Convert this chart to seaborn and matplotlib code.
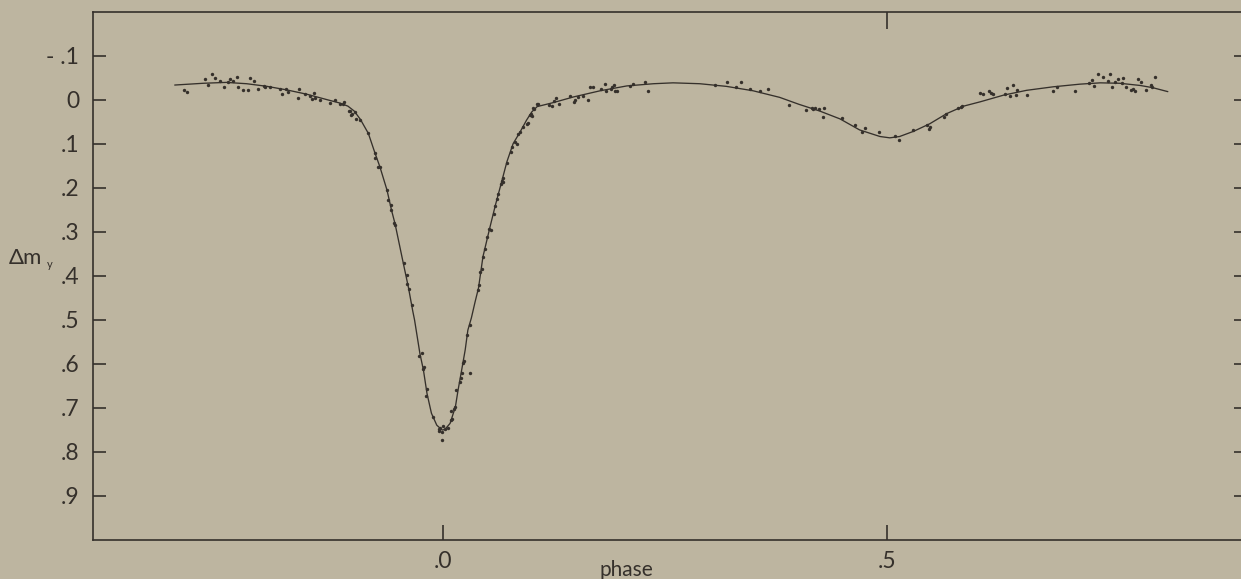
import matplotlib
matplotlib.use("Agg")
import matplotlib.pyplot as plt
import seaborn as sns
import pandas as pd

# ---- fitted light curve (phase, delta m_y) ----
curve_phase = [-0.302, -0.270, -0.244, -0.221, -0.198, -0.176, -0.153, -0.131, -0.116, -0.107,
               -0.100, -0.093, -0.084, -0.077, -0.071, -0.063, -0.058, -0.054, -0.045, -0.039,
               -0.034, -0.032, -0.026, -0.022, -0.018, -0.013, -0.007, -0.001, 0.002, 0.008,
               0.014, 0.017, 0.021, 0.025, 0.028, 0.032, 0.036, 0.040, 0.045, 0.053,
               0.059, 0.066, 0.072, 0.079, 0.087, 0.094, 0.100, 0.106, 0.124, 0.147,
               0.177, 0.207, 0.237, 0.259, 0.289, 0.319, 0.349, 0.379, 0.401, 0.424,
               0.447, 0.469, 0.492, 0.503, 0.514, 0.530, 0.548, 0.567, 0.586, 0.605,
               0.631, 0.657, 0.687, 0.717, 0.740, 0.762, 0.785, 0.799, 0.816]
curve_dm = [-0.034, -0.038, -0.040, -0.037, -0.031, -0.023, -0.013, -0.001, 0.007, 0.014,
            0.025, 0.044, 0.076, 0.118, 0.152, 0.205, 0.250, 0.281, 0.368, 0.425,
            0.480, 0.500, 0.576, 0.614, 0.667, 0.712, 0.739, 0.750, 0.749, 0.735,
            0.697, 0.659, 0.614, 0.568, 0.523, 0.495, 0.460, 0.427, 0.356, 0.288,
            0.239, 0.186, 0.140, 0.099, 0.072, 0.046, 0.027, 0.015, 0.006, -0.007,
            -0.021, -0.032, -0.037, -0.039, -0.037, -0.031, -0.021, -0.006, 0.010, 0.025,
            0.043, 0.068, 0.083, 0.086, 0.083, 0.071, 0.054, 0.031, 0.014, 0.004,
            -0.011, -0.022, -0.030, -0.036, -0.039, -0.038, -0.033, -0.028, -0.019]

obs_phase = [-0.292, -0.288, -0.268, -0.264, -0.260, -0.257, -0.251, -0.247, -0.242, -0.240,
             -0.236, -0.232, -0.231, -0.225, -0.220, -0.217, -0.213, -0.208, -0.202, -0.200,
             -0.195, -0.183, -0.181, -0.177, -0.174, -0.162, -0.163, -0.155, -0.150, -0.145,
             -0.147, -0.144, -0.139, -0.127, -0.122, -0.116, -0.113, -0.106, -0.103, -0.099,
             -0.093, -0.111, -0.105, -0.102, -0.098, -0.084, -0.077, -0.077, -0.073, -0.071,
             -0.063, -0.062, -0.059, -0.058, -0.055, -0.054, -0.044, -0.041, -0.040, -0.038,
             -0.035, -0.027, -0.024, -0.023, -0.021, -0.018, -0.019, -0.011, -0.005, -0.003,
             0.000, 0.002, 0.006, -0.001, -0.004, -0.001, 0.030, 0.027, 0.022, 0.024,
             0.021, 0.030, 0.020, 0.019, 0.015, 0.014, 0.012, 0.009, 0.010, 0.009,
             0.039, 0.041, 0.042, 0.044, 0.045, 0.047, 0.050, 0.052, 0.054, 0.057,
             0.059, 0.061, 0.062, 0.065, 0.066, 0.067, 0.068, 0.072, 0.077, 0.078,
             0.081, 0.083, 0.085, 0.087, 0.090, 0.095, 0.099, 0.100, 0.102, 0.106,
             0.107, 0.119, 0.096, 0.098, 0.101, 0.123, 0.125, 0.127, 0.131, 0.143,
             0.148, 0.149, 0.152, 0.158, 0.163, 0.165, 0.169, 0.178, 0.182, 0.184,
             0.189, 0.190, 0.192, 0.194, 0.196, 0.210, 0.214, 0.227, 0.231, 0.306,
             0.320, 0.330, 0.336, 0.346, 0.357, 0.366, 0.390, 0.409, 0.415, 0.417,
             0.419, 0.423, 0.429, 0.428, 0.449, 0.464, 0.472, 0.475, 0.491, 0.509,
             0.513, 0.529, 0.545, 0.547, 0.548, 0.564, 0.566, 0.580, 0.583, 0.584,
             0.604, 0.608, 0.615, 0.617, 0.619, 0.633, 0.635, 0.638, 0.642, 0.646,
             0.645, 0.658, 0.687, 0.691, 0.711, 0.727, 0.731, 0.733, 0.737, 0.743,
             0.749, 0.751, 0.753, 0.757, 0.760, 0.764, 0.766, 0.769, 0.774, 0.777,
             0.779, 0.782, 0.786, 0.791, 0.797, 0.798, 0.801]
obs_dm = [-0.023, -0.019, -0.047, -0.033, -0.060, -0.050, -0.044, -0.029, -0.040, -0.048,
          -0.043, -0.052, -0.029, -0.022, -0.023, -0.050, -0.043, -0.024, -0.031, -0.029,
          -0.029, -0.025, -0.014, -0.026, -0.018, -0.024, -0.005, -0.014, -0.008, -0.016,
          -0.003, -0.005, 0.001, 0.006, 0.001, 0.009, 0.009, 0.025, 0.033, 0.028,
          0.045, 0.005, 0.025, 0.031, 0.043, 0.075, 0.121, 0.132, 0.153, 0.153,
          0.204, 0.228, 0.238, 0.251, 0.280, 0.285, 0.370, 0.397, 0.418, 0.429,
          0.467, 0.581, 0.575, 0.611, 0.606, 0.656, 0.673, 0.721, 0.747, 0.746,
          0.742, 0.747, 0.746, 0.755, 0.753, 0.772, 0.511, 0.535, 0.598, 0.594,
          0.621, 0.621, 0.631, 0.641, 0.660, 0.697, 0.702, 0.707, 0.725, 0.727,
          0.432, 0.420, 0.391, 0.384, 0.356, 0.338, 0.312, 0.293, 0.295, 0.260,
          0.242, 0.225, 0.213, 0.190, 0.183, 0.178, 0.187, 0.143, 0.119, 0.106,
          0.096, 0.100, 0.077, 0.073, 0.062, 0.054, 0.031, 0.037, 0.020, 0.009,
          0.010, 0.012, 0.052, 0.033, 0.018, 0.013, 0.003, -0.005, 0.008, -0.008,
          0.005, 0.000, -0.006, -0.010, 0.001, -0.029, -0.029, -0.025, -0.036, -0.020,
          -0.025, -0.030, -0.033, -0.021, -0.021, -0.031, -0.037, -0.042, -0.020, -0.035,
          -0.041, -0.029, -0.041, -0.025, -0.020, -0.026, 0.011, 0.023, 0.019, 0.021,
          0.018, 0.021, 0.019, 0.038, 0.040, 0.057, 0.072, 0.063, 0.072, 0.082,
          0.090, 0.069, 0.057, 0.065, 0.061, 0.038, 0.031, 0.019, 0.015, 0.013,
          -0.017, -0.014, -0.020, -0.016, -0.014, -0.014, -0.027, -0.008, -0.033, -0.023,
          -0.012, -0.012, -0.021, -0.029, -0.020, -0.039, -0.046, -0.031, -0.060, -0.052,
          -0.043, -0.060, -0.029, -0.040, -0.048, -0.039, -0.050, -0.029, -0.022, -0.026,
          -0.021, -0.047, -0.041, -0.023, -0.033, -0.029, -0.052]

ytick_vals = [-0.1, 0.0, 0.1, 0.2, 0.3, 0.4, 0.5, 0.6, 0.7, 0.8, 0.9]
ytick_labels = ["- .1", "0", ".1", ".2", ".3", ".4", ".5", ".6", ".7", ".8", ".9"]
xtick_vals = [0.0, 0.5]
xtick_labels = [".0", ".5"]

curve_df = pd.DataFrame({"phase": curve_phase, "dm": curve_dm})
obs_df = pd.DataFrame({"phase": obs_phase, "dm": obs_dm})

BG = "#BDB5A0"
INK = "#35302b"

sns.set_theme(style="ticks")
plt.rcParams["font.family"] = ["Lato", "DejaVu Sans"]

fig = plt.figure(figsize=(12.41, 5.79), dpi=100, facecolor=BG)
ax = fig.add_axes([93 / 1241, 1 - 540 / 579, (1246 - 93) / 1241, (540 - 12) / 579])
ax.set_facecolor(BG)

sns.lineplot(data=curve_df, x="phase", y="dm", ax=ax, color=INK, linewidth=0.95,
             estimator=None, sort=False)
sns.scatterplot(data=obs_df, x="phase", y="dm", ax=ax, color=INK, s=6,
                linewidth=0, zorder=3)

ax.set_xlim(-0.394, 0.904)
ax.set_ylim(1.0, -0.2)

for side in ["left", "right", "top", "bottom"]:
    ax.spines[side].set_color(INK)
    ax.spines[side].set_linewidth(1.2)

ax.set_yticks(ytick_vals)
ax.set_yticklabels(ytick_labels)
ax.tick_params(axis="y", which="both", direction="in", length=9, width=1.2,
               color=INK, left=True, right=True, labelleft=True, labelright=False,
               labelsize=16.5, labelcolor=INK, pad=10)
ax.set_xticks(xtick_vals)
ax.set_xticklabels(xtick_labels)
ax.tick_params(axis="x", direction="in", length=11, width=1.2, color=INK,
               top=False, bottom=True, labelsize=16.5, labelcolor=INK, pad=8)

sec = ax.secondary_xaxis("top")
sec.set_xticks([0.5])
sec.set_xticklabels([])
sec.tick_params(direction="in", length=12, width=1.2, color=INK)
sec.spines["top"].set_visible(False)

ax.set_xlabel("phase", fontsize=15, color=INK)
ax.xaxis.set_label_coords((626 - 93) / (1246 - 93), -0.057)
ax.xaxis.label.set_va("center")
ax.set_ylabel("")

fig.text(9 / 1241, 1 - 258 / 579, "\u0394m", fontsize=16, color=INK, va="center", ha="left")
fig.text(47 / 1241, 1 - 264 / 579, "y", fontsize=8, color=INK, va="center", ha="left")

fig.savefig("out.png", dpi=100, facecolor=BG)
